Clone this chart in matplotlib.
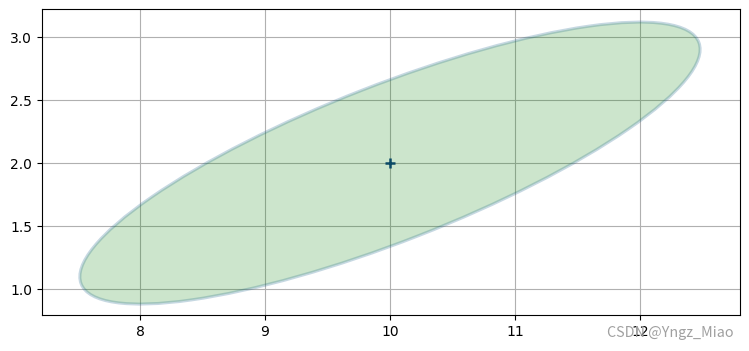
import matplotlib
matplotlib.use("Agg")
import matplotlib.pyplot as plt
from matplotlib.patches import Ellipse

# data
center = [10.0, 2.0]
ellipse_width = 5.30
ellipse_height = 1.24
ellipse_angle = 21.2
xticks = [8, 9, 10, 11, 12]
yticks = [1.0, 1.5, 2.0, 2.5, 3.0]

fig = plt.figure(figsize=(7.49, 3.51), dpi=100)
ax = fig.add_axes([0.056, 0.1026, 0.932, 0.8714])

e = Ellipse(xy=center, width=ellipse_width, height=ellipse_height, angle=ellipse_angle,
            facecolor=(0, 0.5, 0, 0.2), edgecolor=(0.12, 0.40, 0.55, 0.25), linewidth=2.2, zorder=2)
ax.add_patch(e)
ax.plot([center[0]], [center[1]], marker='+', color='#0b4a66', markersize=7, markeredgewidth=1.8,
        linestyle='none', zorder=3)

ax.set_xlim(7.216, 12.8)
ax.set_ylim(0.794, 3.222)
ax.set_xticks(xticks)
ax.set_yticks(yticks)
ax.set_yticklabels([f"{v:.1f}" for v in yticks])
ax.grid(True, zorder=1.5)

fig.text(0.980, 0.050, "CSDN @Yngz_Miao", color='#a0a0a0', fontsize=10.3, ha='right', va='center',
         family=['Noto Sans CJK SC', 'DejaVu Sans'])

fig.savefig("out.png", dpi=100)
